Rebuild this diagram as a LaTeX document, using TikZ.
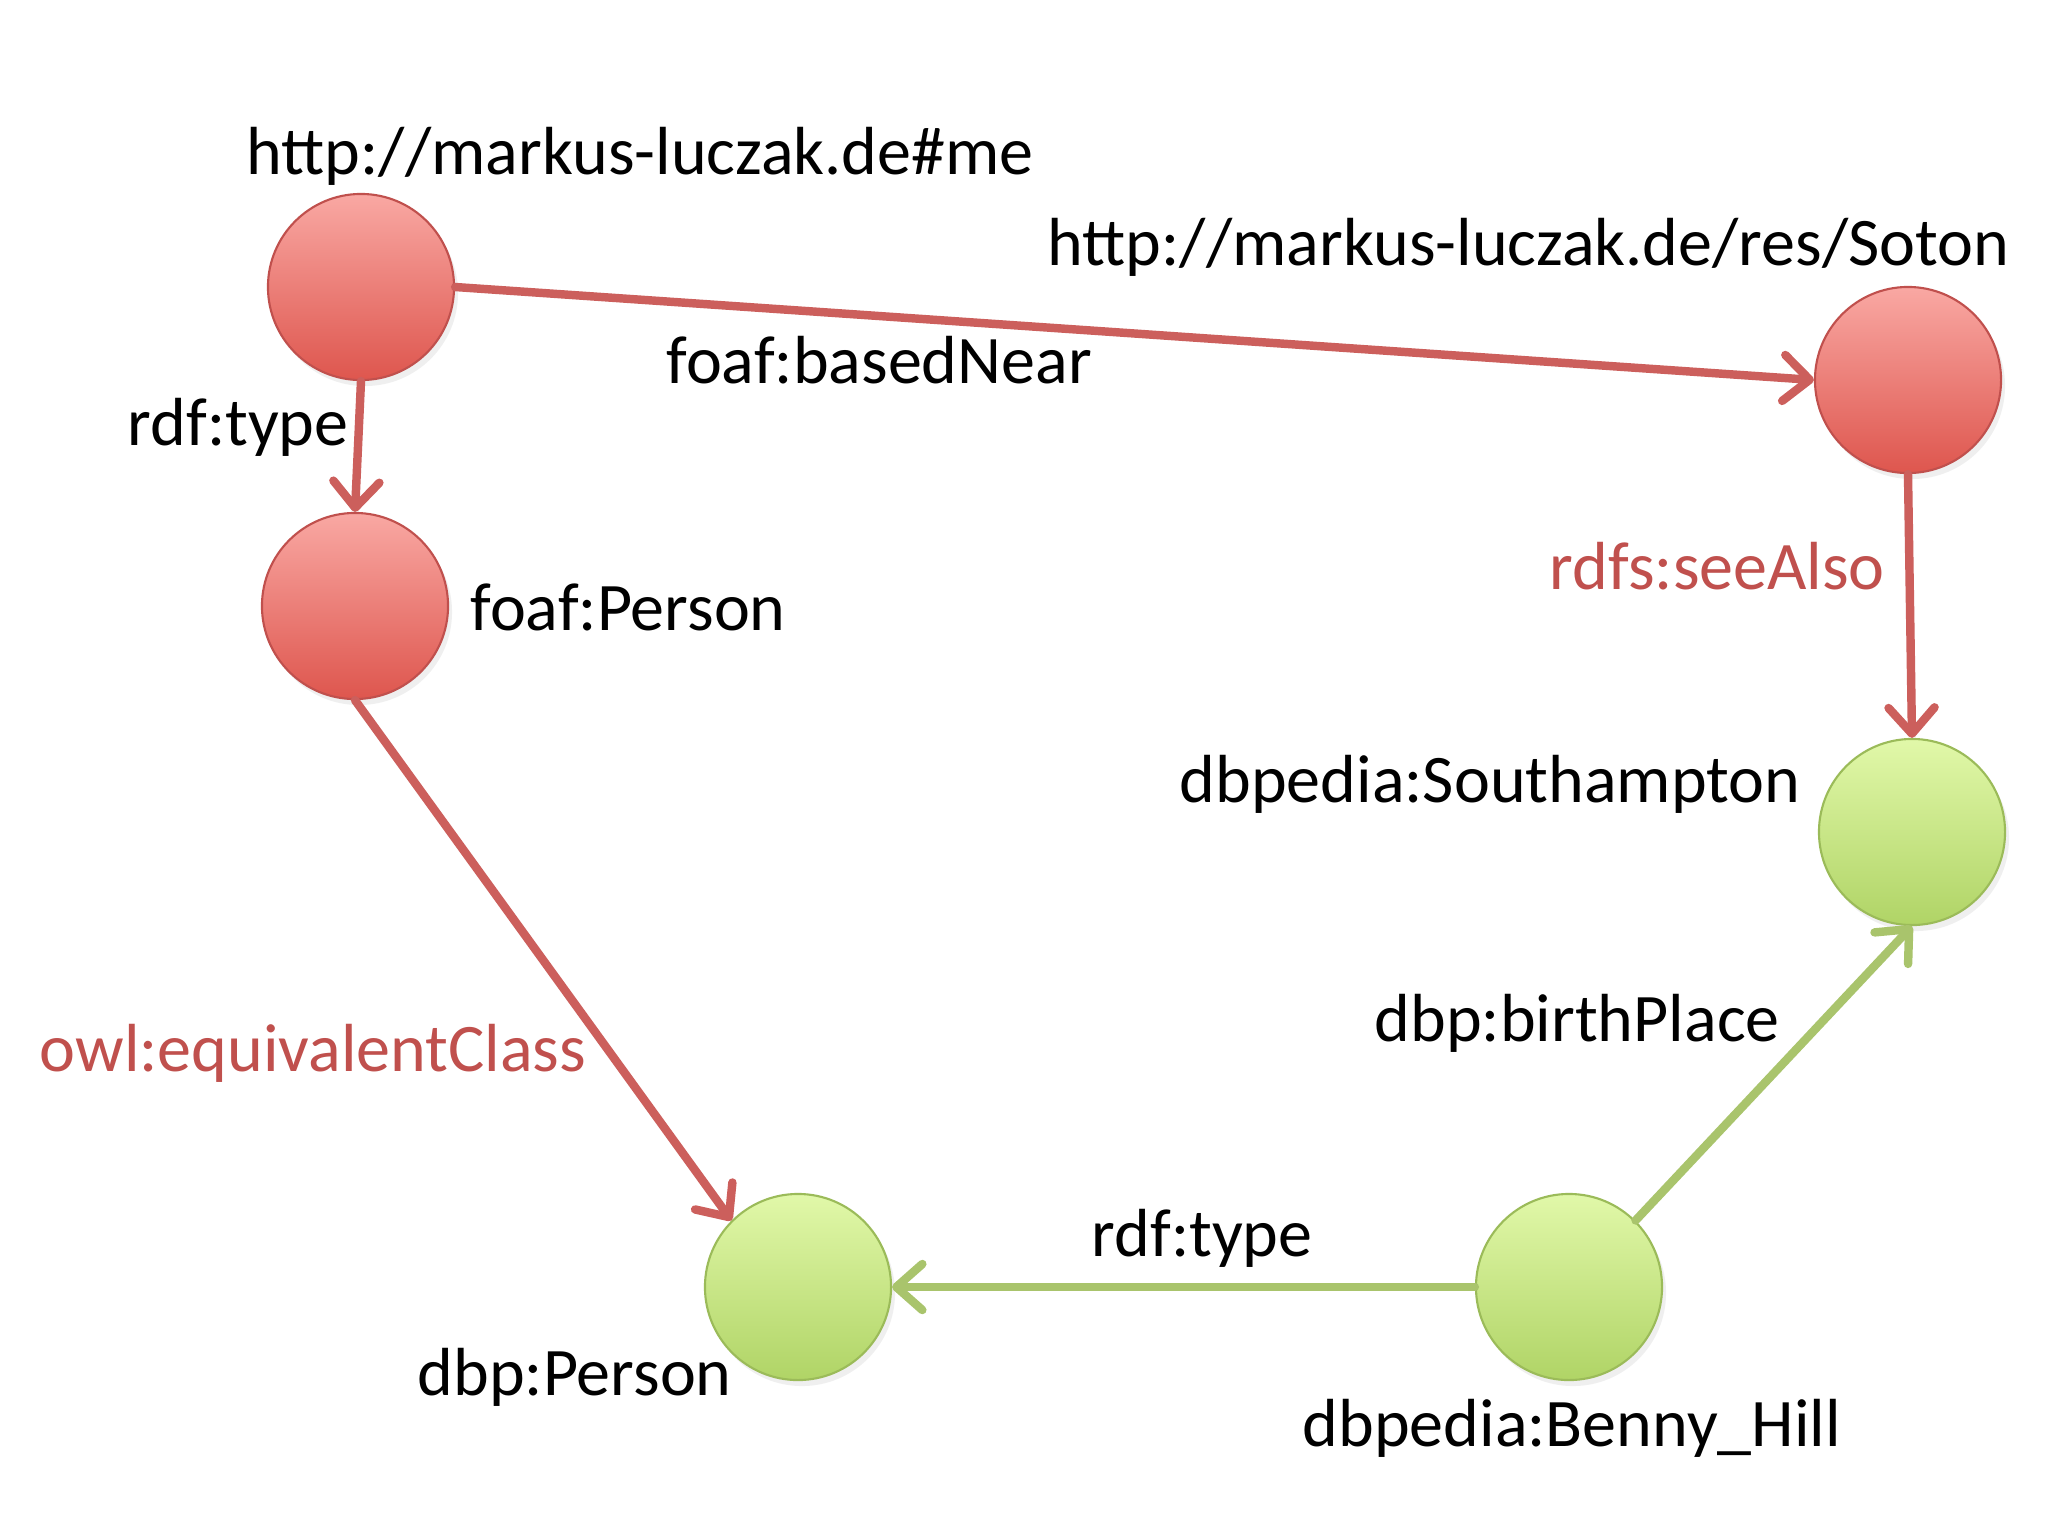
\documentclass[tikz,border=0pt]{standalone}
\usepackage{fontspec}
\setmainfont{Carlito}
\usetikzlibrary{arrows.meta,shadows}
\definecolor{redline}{HTML}{CC5F5C}
\definecolor{redborder}{HTML}{C0504D}
\definecolor{redtop}{HTML}{F9A8A3}
\definecolor{redbot}{HTML}{DE564E}
\definecolor{greenline}{HTML}{A9C46C}
\definecolor{greenborder}{HTML}{9BBB59}
\definecolor{greentop}{HTML}{E1F8A9}
\definecolor{greenbot}{HTML}{B0D466}
\definecolor{redtext}{HTML}{C0504D}
\tikzset{
  ball/.style={circle, inner sep=0pt, minimum size=1.86cm, line width=0.6pt,
    drop shadow={opacity=0.12, shadow xshift=0.4mm, shadow yshift=-0.6mm}},
  redball/.style={ball, draw=redborder, top color=redtop, bottom color=redbot},
  greenball/.style={ball, draw=greenborder, top color=greentop, bottom color=greenbot},
  lbl/.style={anchor=base west, inner sep=0pt, font=\fontsize{19.35pt}{23pt}\selectfont},
  redlbl/.style={lbl, text=redtext},
  edge/.style={line width=2.4pt, line cap=round,
    -{Straight Barb[length=2.6mm,width=4.6mm,round]}},
  rededge/.style={edge, draw=redline},
  greenedge/.style={edge, draw=greenline},
}
\begin{document}
\begin{tikzpicture}[x=0.01cm,y=-0.01cm]
\fill[white] (0,0) rectangle (2048,1536);
\useasboundingbox (0,0) rectangle (2048,1536);

\node[redball] (me) at (361,287) {};
\node[redball] (fp) at (355,606) {};
\node[redball] (soton) at (1908,380) {};
\node[greenball] (sh) at (1912,832) {};
\node[greenball] (dbpP) at (798,1287) {};
\node[greenball] (benny) at (1569,1287) {};

\draw[rededge] (me.east) -- (soton.west);
\draw[rededge] (me.south) -- (fp.north);
\draw[rededge] (fp.south) -- (dbpP.135);
\draw[rededge] (soton.south) -- (sh.north);
\draw[greenedge] (benny.west) -- (dbpP.east);
\draw[greenedge] (benny.45) -- (sh.south);

\node[lbl] (tme) at (246,174) {http://markus-luczak.de\#me};
\node[lbl] (tsoton) at (1047,265) {http://markus-luczak.de/res/Soton};
\node[lbl] (tbased) at (666,383) {foaf:basedNear};
\node[lbl] (ttype1) at (127,445) {rdf:type};
\node[lbl] (tfp) at (470,630) {foaf:Person};
\node[redlbl] (tsee) at (1549,589) {rdfs:seeAlso};
\node[lbl] (tsh) at (1179,802) {dbpedia:Southampton};
\node[redlbl] (towl) at (39,1071) {owl:equivalentClass};
\node[lbl] (tbirth) at (1374,1041) {dbp:birthPlace};
\node[lbl] (ttype2) at (1091,1256) {rdf:type};
\node[lbl] (tdbpP) at (417,1395) {dbp:Person};
\node[lbl] (tbenny) at (1302,1446) {dbpedia:Benny\_Hill};
\end{tikzpicture}
\end{document}
